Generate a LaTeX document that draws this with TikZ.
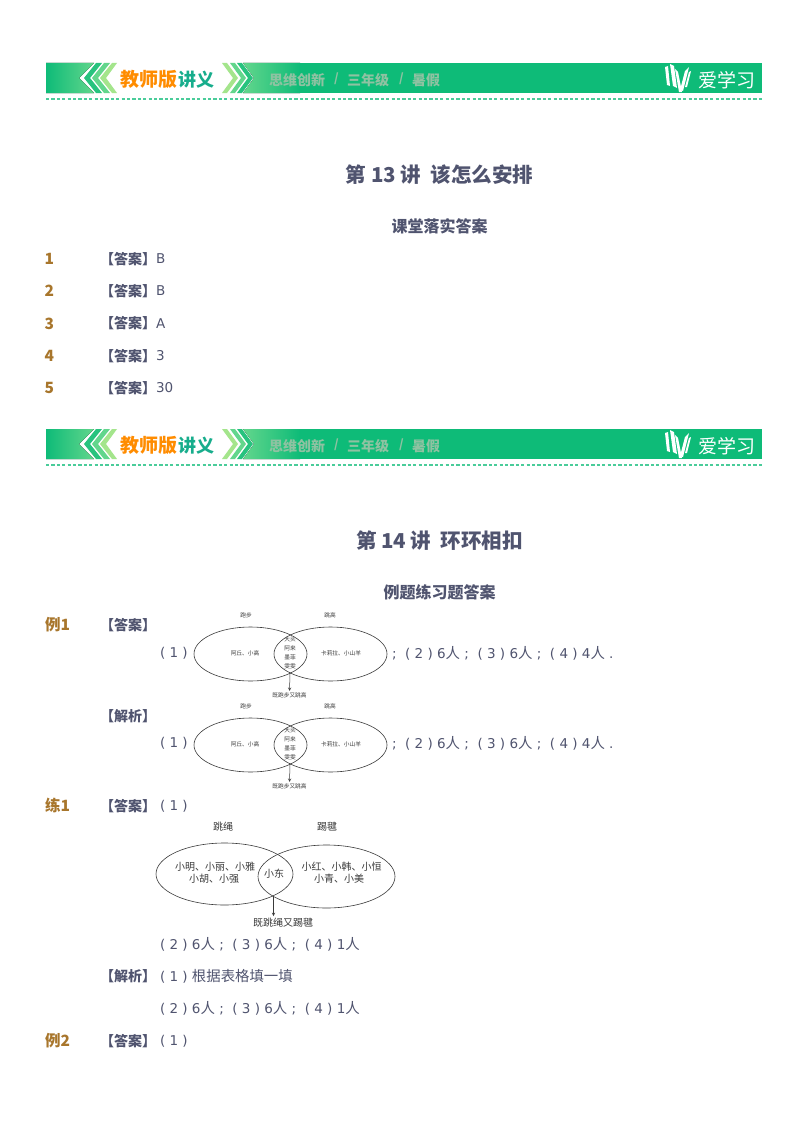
\documentclass[tikz,border=0pt]{standalone}
\usepackage{fontspec}
\setmainfont{DejaVu Sans}
\newfontfamily\zhfont{Noto Sans CJK SC}
\newcommand\zh[1]{{\zhfont\fontsize{14.4}{14.4}\selectfont #1}}
\usetikzlibrary{shapes.geometric}
\definecolor{barGreen}{HTML}{0EBB78}
\definecolor{barLight}{HTML}{62D68C}
\definecolor{barLime}{HTML}{A4E58C}
\definecolor{barGrey}{HTML}{8FC2A2}
\definecolor{barTeal}{HTML}{17AD8C}
\definecolor{inkBlue}{HTML}{50546F}
\definecolor{numBrown}{HTML}{A8762C}
\definecolor{vennInk}{HTML}{3A3A3A}
\tikzset{
  fs/.style={font=\zhfont\fontsize{#1}{#1}\selectfont},
  fsb/.style={font=\zhfont\bfseries\fontsize{#1}{#1}\selectfont},
  ink/.style={text=inkBlue,anchor=west,font=\fontsize{13.5}{13.5}\selectfont},
  num/.style={text=numBrown,anchor=west,fsb=15.5},
  tag/.style={text=inkBlue,anchor=west,fsb=14},
  heading/.style={text=inkBlue,fsb=#1},
  venn/.style={shape=ellipse,draw=vennInk,line width=0.6pt,minimum width=#1},
  vtext/.style={text=vennInk,fs=#1},
  barlabel/.style={anchor=west,text=barGrey,fsb=14},
  headerbar/.pic={
    \fill[left color=barGreen,right color=barLight] (46,63) -- (94,63) -- (79,78) -- (94,93) -- (46,93) -- cycle;
    \fill[left color=barLight,right color=barGreen] (243,63) -- (254,78) -- (243,93) -- (300,93) -- (300,63) -- cycle;
    \fill[barGreen] (300,63) rectangle (762,93);
    % chevrons
    \fill[barGreen!70!barLight] (96,63) -- (102,63) -- (90,78) -- (102,93) -- (96,93) -- (84,78) -- cycle;
    \fill[barLight] (104,63) -- (110,63) -- (98,78) -- (110,93) -- (104,93) -- (92,78) -- cycle;
    \fill[barLime] (112,63) -- (117,63) -- (106,78) -- (117,93) -- (112,93) -- (100,78) -- cycle;
    \fill[barLime] (222,63) -- (227,63) -- (238,78) -- (227,93) -- (222,93) -- (233,78) -- cycle;
    \fill[barLight] (230,63) -- (235,63) -- (246,78) -- (235,93) -- (230,93) -- (241,78) -- cycle;
    \fill[barGreen!70!barLight] (237,63) -- (242,63) -- (253,78) -- (242,93) -- (237,93) -- (248,78) -- cycle;
    % logo
    \fill[white] (665,67) -- (668,66) -- (670,86) -- (667,85) -- cycle;
    \fill[white] (670,64) -- (674,66) -- (677,88) -- (673,86) -- cycle;
    \fill[white] (675,69) -- (678,72) -- (682,92) -- (679,92) -- cycle;
    \fill[white] (680,90) -- (685,71) -- (689,67) -- (683,91) -- cycle;
    \fill[white] (685,87) -- (689,72) -- (691,71) -- (687,87) -- cycle;
    \draw[barGreen!75!white,line width=1.6pt,dash pattern=on 3.2pt off 2.2pt] (46,99) -- (762,99);
    \node[anchor=west,text=orange!90!yellow,fsb=19] (jiaoshi) at (120.5,79.5) {教师版};
    \node[anchor=west,text=barTeal,fsb=18] (jiangyi) at (178.5,79.5) {讲义};
    \node[barlabel] (siwei) at (269,80) {思维创新};
    \node[barlabel,fsb=12] (sep1) at (334,79) {/};
    \node[barlabel] (nianji) at (347,80) {三年级};
    \node[barlabel,fsb=12] (sep2) at (399,79) {/};
    \node[barlabel] (shujia) at (412,80) {暑假};
    \node[anchor=west,text=white,fs=19] (brand) at (698,80.5) {爱学习};
  },
  smallvenn/.pic={
    \node[venn=113pt,minimum height=54pt] (left) at (250.5,654) {};
    \node[venn=113pt,minimum height=54pt] (right) at (330.5,654) {};
    \node[vtext=5.7] (lefttop) at (246,615) {跑步};
    \node[vtext=5.7] (righttop) at (330,615) {跳高};
    \node[vtext=5.7] (lefttext) at (245,653) {阿丘、小高};
    \node[vtext=5.7] (righttext) at (341,653) {卡莉拉、小山羊};
    \foreach \n/\t/\yy in {a/大头/639,b/阿来/648,c/墨菲/657,d/雯雯/666} {
      \node[vtext=5.7] (mid\n) at (290,\yy) {\t};
    }
    \coordinate (crossing) at (290,672);
    \node[vtext=5.7] (both) at (289.5,695.5) {既跑步又跳高};
    \draw[-stealth,vennInk,line width=0.5pt,shorten >=2pt] (crossing) -- (both.north);
  }
}
\begin{document}
\begin{tikzpicture}
[x=1pt,y=-1pt,%
  every node/.style={inner sep=0pt,outer sep=0pt}]
\useasboundingbox (0,0) rectangle (800,1132);
\fill[white] (0,0) rectangle (800,1132);
\pic (barA) at (0,0) {headerbar};
\pic (barB) at (0,366) {headerbar};
\node[heading=20.5] (title13) at (439.5,175) {第 13 讲\ \ 该怎么安排};
\node[heading=16] (sub13) at (439.5,226.5) {课堂落实答案};
\foreach \i/\y/\a in {1/259/B,2/291/B,3/323.5/A,4/356/3,5/388/30} {
  \node[num] (no\i) at (44.5,\y) {\i};
  \node[tag] (tag\i) at (100,\y) {【答案】};
  \node[ink] (ans\i) at (156,\y) {\a};
}
\node[heading=20.5] (title14) at (439.5,541) {第 14 讲\ \ 环环相扣};
\node[heading=16] (sub14) at (439.5,592) {例题练习题答案};

\node[num] (li1) at (45,624.5) {例1};
\node[tag] (tagA) at (100,625) {【答案】};
\node[ink] (partA) at (160,653) {( 1 )};
\pic (vennA) at (0,0) {smallvenn};
\node[ink] (restA) at (392,653) {;\ \ ( 2 ) 6\zh{人} ;\ \ ( 3 ) 6\zh{人} ;\ \ ( 4 ) 4\zh{人} .};

\node[tag] (tagB) at (100,716) {【解析】};
\node[ink] (partB) at (160,743.5) {( 1 )};
\pic (vennB) at (0,91) {smallvenn};
\node[ink] (restB) at (392,743.5) {;\ \ ( 2 ) 6\zh{人} ;\ \ ( 3 ) 6\zh{人} ;\ \ ( 4 ) 4\zh{人} .};

\node[num] (lian1) at (45,805.5) {练1};
\node[tag] (tagC) at (100,806) {【答案】};
\node[ink] (partC) at (160,806) {( 1 )};
\node[venn=137pt,minimum height=62pt] (rope) at (224.5,874) {};
\node[venn=137pt,minimum height=63pt] (kick) at (326.5,876.5) {};
\node[vtext=10] (ropetop) at (223,827) {跳绳};
\node[vtext=10] (kicktop) at (327,827) {踢毽};
\node[vtext=10] (ropeone) at (215,867) {小明、小丽、小雅};
\node[vtext=10] (ropetwo) at (214,879) {小胡、小强};
\node[vtext=10] (kickone) at (341.5,867) {小红、小韩、小恒};
\node[vtext=10] (kicktwo) at (339,879) {小青、小美};
\node[vtext=10] (dong) at (274,873.5) {小东};
\coordinate (meet) at (273.5,896);
\coordinate (drop) at (273.5,916);
\node[vtext=10] (bothC) at (283,923) {既跳绳又踢毽};
\draw[-stealth,vennInk,line width=0.5pt] (meet) -- (drop);
\node[ink] (restC) at (160,944) {( 2 ) 6\zh{人} ;\ \ ( 3 ) 6\zh{人} ;\ \ ( 4 ) 1\zh{人}};

\node[tag] (tagD) at (100,976.5) {【解析】};
\node[ink] (partD) at (160,976.5) {( 1 ) \zh{根据表格填一填}};
\node[ink] (restD) at (160,1008.5) {( 2 ) 6\zh{人} ;\ \ ( 3 ) 6\zh{人} ;\ \ ( 4 ) 1\zh{人}};

\node[num] (li2) at (45,1041) {例2};
\node[tag] (tagE) at (100,1041) {【答案】};
\node[ink] (partE) at (160,1041) {( 1 )};
\end{tikzpicture}
\end{document}
